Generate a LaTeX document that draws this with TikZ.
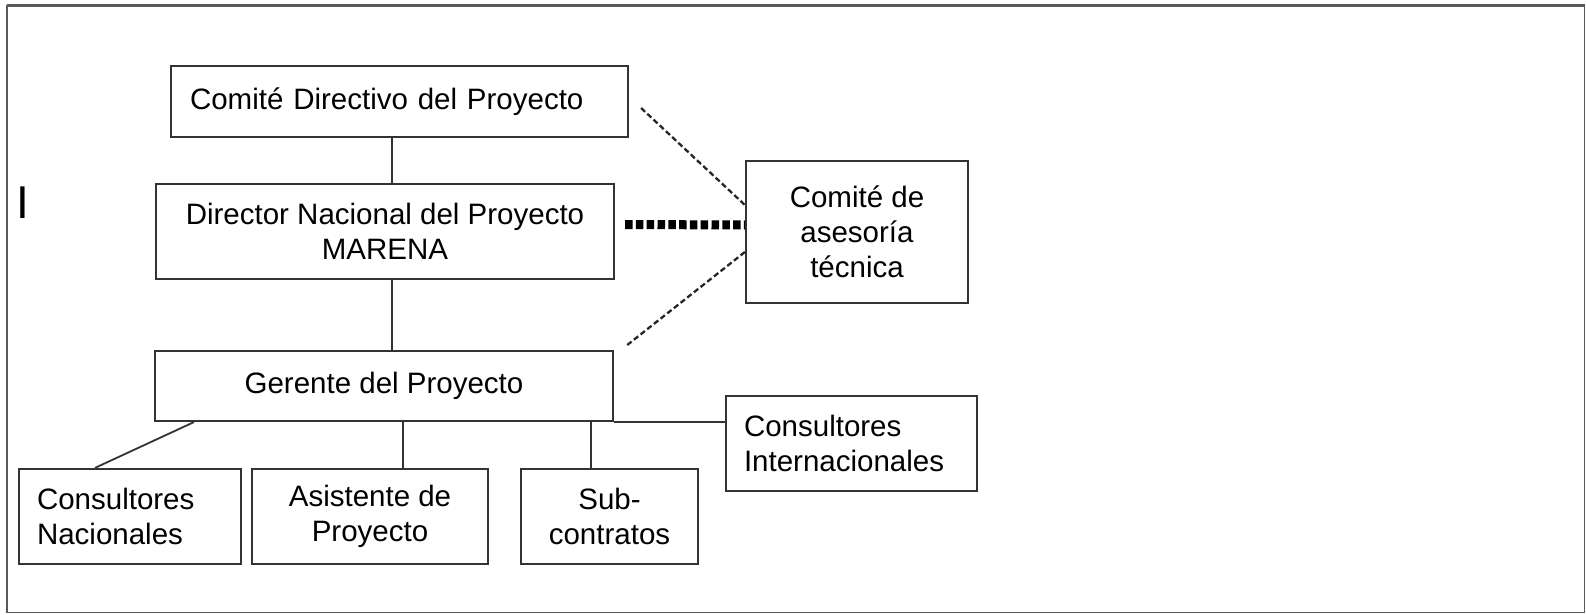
\documentclass[tikz,border=0pt]{standalone}
\usepackage{fontspec}
\setmainfont{Liberation Sans}
\begin{document}
\begin{tikzpicture}[x=1pt,y=-1pt,
  box/.style={draw=black!80, line width=2.2pt, rectangle, inner sep=0pt,
    font=\fontsize{29.5}{35}\selectfont, text=black},
  boxl/.style={box, align=left},
  boxc/.style={box, align=center},
  link/.style={draw=black!80, line width=1.8pt},
  dashlink/.style={draw=black!85, line width=2.3pt, dash pattern=on 5.5pt off 3pt},
  thickdots/.style={draw=black, line width=9pt, dash pattern=on 7.5pt off 3.3pt}]
\useasboundingbox (0,0) rectangle (1586,615);
% outer frame
\draw[black!65, line width=1.8pt] (7,6) rectangle (1584.5,612.5);
\draw[black!65, line width=3.5pt] (7,5.5) -- (1584.5,5.5);
% stray glyph
\node[font=\fontsize{46}{46}\selectfont, inner sep=0pt] (stray) at (23,202.5) {I};
% boxes
\node[boxl, minimum width=457pt, minimum height=71pt, text width=419pt, inner xsep=19pt] (cd) at (399.5,101.5) {Comité Directivo del Proyecto};
\node[boxc, minimum width=458pt, minimum height=95pt] (dir) at (385,231.5) {Director Nacional del Proyecto\\MARENA};
\node[boxc, minimum width=222pt, minimum height=142pt] (ase) at (857,232) {Comité de\\asesoría\\técnica};
\node[boxc, minimum width=458pt, minimum height=70pt] (ger) at (384,386) {Gerente del Proyecto};
\node[boxl, minimum width=251pt, minimum height=95pt, text width=215pt, inner xsep=18pt] (ci) at (851.5,443.5) {Consultores\\Internacionales};
\node[boxl, minimum width=222pt, minimum height=95pt, text width=186pt, inner xsep=18pt] (cn) at (130,516.5) {Consultores\\Nacionales};
\node[boxc, minimum width=236pt, minimum height=95pt] (asis) at (370,516.5) {Asistente de\\Proyecto};
\node[boxc, minimum width=177pt, minimum height=95pt] (sub) at (609.5,516.5) {Sub-\\contratos};
% solid connectors
\draw[link] ([xshift=-7.5pt]cd.south) -- ([xshift=-7.5pt]cd.south |- dir.north);
\draw[link] ([xshift=7pt]dir.south) -- ([xshift=7pt]dir.south |- ger.north);
\draw[link] ([xshift=40pt]ger.south west) -- ([xshift=-35pt]cn.north);
\draw[link] ([xshift=33pt]asis.north) -- ([xshift=33pt]asis.north |- ger.south);
\draw[link] ([xshift=-18.5pt]sub.north) -- ([xshift=-18.5pt]sub.north |- ger.south);
\draw[link] (ger.south east) -- (ger.south east -| ci.west);
% advisory links
\draw[dashlink] ([xshift=12pt,yshift=-6.5pt]cd.east) -- ([yshift=27pt]ase.west);
\draw[dashlink] ([yshift=-20pt]ase.west) -- ([xshift=12pt,yshift=4pt]ger.north east);
\draw[thickdots] ([xshift=10pt,yshift=7pt]dir.east) -- ([yshift=7pt]ase.west);
\end{tikzpicture}
\end{document}
